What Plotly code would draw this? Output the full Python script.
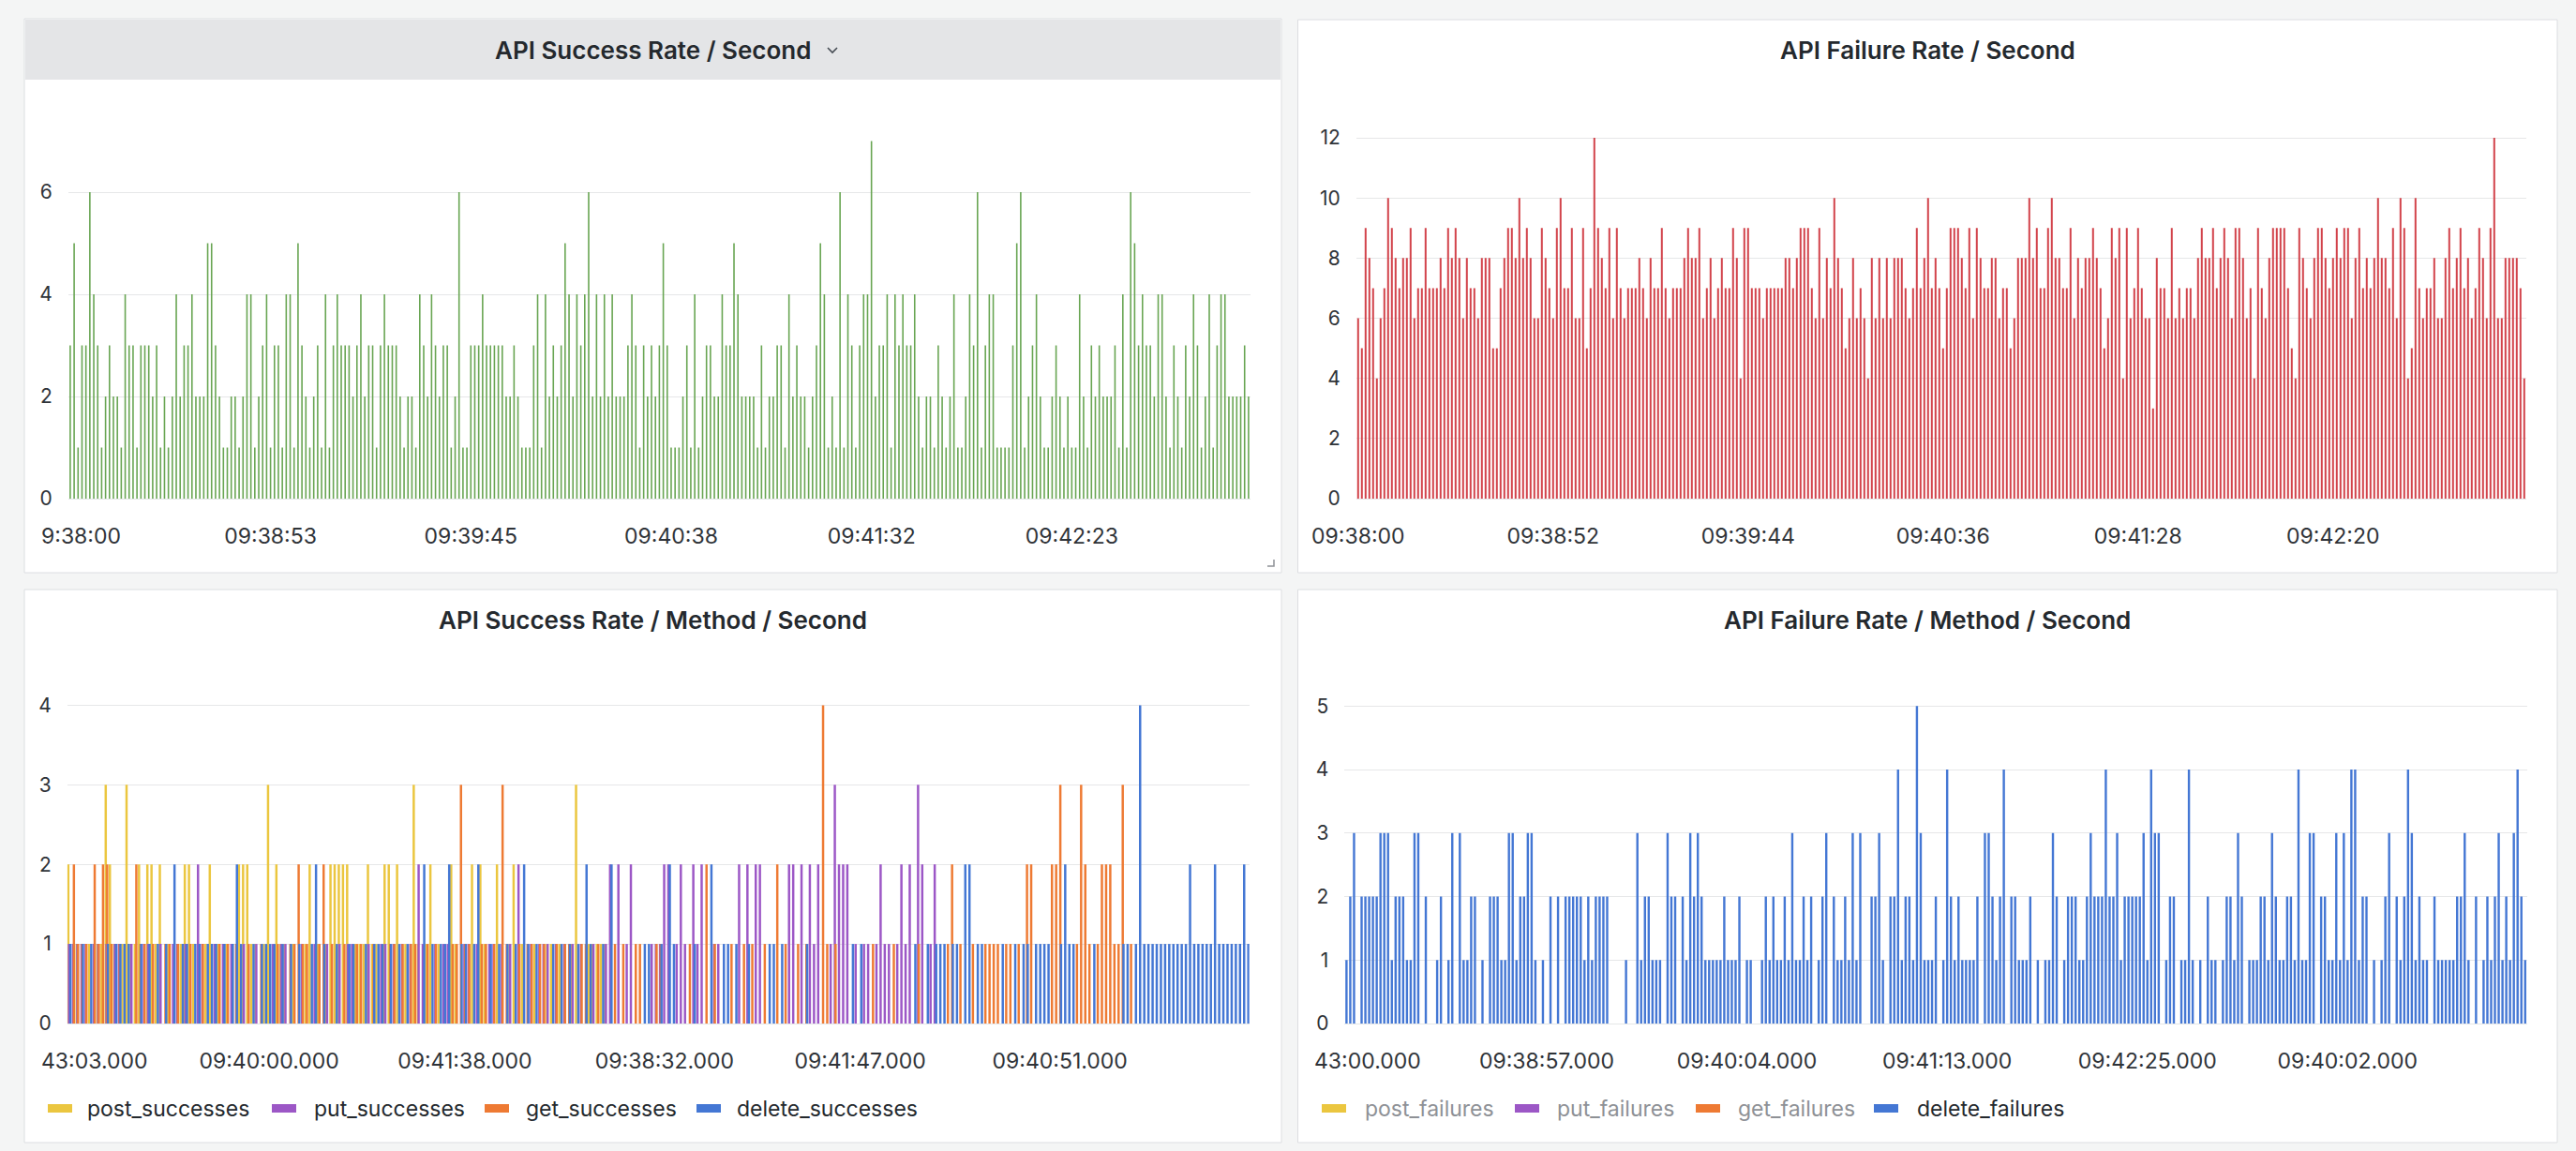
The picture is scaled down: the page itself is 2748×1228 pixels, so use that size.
import plotly.graph_objects as go

W, H = 2748, 1228

# ---------------- data ----------------
success_per_second = [
    3,5,1,3,3,6,4,3,1,2, 3,2,2,1,4,3,3,1,3,3, 3,2,3,1,2,1,2,4,2,3,
    3,4,2,2,2,5,5,3,2,1, 1,2,2,1,2,4,4,1,2,3, 4,1,3,3,1,4,4,1,5,3,
    2,1,2,3,1,4,1,3,4,3, 3,3,2,3,4,2,3,3,1,3, 4,3,3,3,2,1,2,2,1,4,
    3,2,4,3,2,3,3,1,2,6, 1,1,3,3,3,4,3,3,3,3, 3,2,2,3,2,1,1,1,3,4,
    1,4,2,3,2,3,5,4,2,4, 3,4,6,2,4,2,4,2,4,2, 2,2,3,4,3,1,3,2,3,2,
    3,5,
    3,1,1,1,2,3,1,4,1,2, 3,3,2,2,4,3,3,5,4,2, 2,2,2,1,3,1,2,2,3,3,
    1,4,2,3,2,2,1,2,3,5, 4,1,2,1,6,1,4,3,1,3, 4,4,7,2,3,3,4,1,4,3,
    4,3,3,4,2,1,2,2,1,3, 2,1,2,4,1,1,2,4,3,6, 1,3,4,4,1,1,1,1,3,5,
    6,1,2,3,4,2,1,1,2,3, 2,1,2,1,1,4,2,1,3,2, 3,2,2,2,3,1,4,1,6,5,
    3,4,3,3,2,4,4,2,1,3, 2,1,3,2,4,3,1,2,4,1, 3,4,4,2,2,2,2,3,2,
]
success_ticks = [0, 51, 102, 153, 204, 255]
success_labels = ["09:38:00", "09:38:53", "09:39:45", "09:40:38", "09:41:32", "09:42:23"]

failure_per_second = [
    6,5,9,8,7,4,6,7,10,9, 8,7,8,8,9,6,7,7,9,7, 7,7,8,7,9,8,9,8,6,8,
    7,7,6,8,8,8,5,5,7,8, 9,9,8,10,8,9,8,6,6,9, 8,7,6,9,10,7,7,9,6,6,
    9,5,7,12,9,8,7,9,6,9, 7,6,7,7,7,8,7,6,8,7, 7,9,7,6,7,7,7,8,9,8,
    8,9,6,7,8,6,7,8,7,7, 9,8,4,9,9,7,7,7,6,7, 7,7,7,7,8,8,7,8,9,9,
    9,7,6,9,6,8,7,10,8,7, 5,6,8,6,7,6,4,8,6,8, 6,8,6,8,8,8,7,6,7,9,
    7,8,10,7,8,7,
    5,7,9,9,9,8,7,9,6,9, 8,7,7,8,8,6,7,7,5,6, 8,8,8,10,8,9,7,7,9,10,
    8,8,7,7,9,6,8,7,8,8, 9,8,7,5,6,9,8,9,4,9, 6,7,9,7,6,6,3,8,7,7,
    6,9,6,7,6,7,7,6,8,9, 8,8,9,7,8,9,8,6,9,9, 8,6,7,4,9,7,6,8,9,9,
    9,9,7,5,4,9,8,7,6,8, 9,9,8,7,8,9,8,9,9,6, 8,9,7,8,7,8,10,8,8,7,
    9,6,10,9,4,5,10,7,6,7, 7,8,6,6,8,9,7,8,9,7, 8,6,7,9,8,6,9,12,6,6,
    8,8,8,8,7,4,
]
failure_ticks = [0, 52, 104, 156, 208, 260]
failure_labels = ["09:38:00", "09:38:52", "09:39:44", "09:40:36", "09:41:28", "09:42:20"]

post_successes = [
    2,0,1,0,0,1,0,1,1,3, 2,1,0,1,3,1,1,2,0,2, 2,1,2,0,1,0,0,1,2,2,
    1,0,0,1,2,0,1,0,1,0, 0,2,2,2,1,1,0,1,3,0, 2,1,1,0,1,0,0,1,2,0,
    1,0,1,2,2,2,2,2,0,1, 1,1,2,1,1,0,2,2,0,2, 0,1,0,3,1,0,1,2,0,1,
    0,0,2,1,0,0,0,2,0,2, 1,0,0,2,0,0,1,2,0,1, 0,0,1,0,0,1,1,0,1,0,
    0,1,3,0,0,1,1,1,1,1, 0,0,0,0,0,0,0,0,0,0, 0,0,0,0,0,0,0,0,0,0,
    0,0,0,0,0,0,0,0,0,0, 0,0,0,0,0,0,0,0,0,0, 0,0,0,0,0,0,0,0,0,0,
    0,0,0,0,0,0,0,0,0,0, 0,0,0,0,0,0,0,0,0,0, 0,0,0,0,0,0,0,0,0,0,
    0,0,0,0,0,0,0,0,0,0, 0,0,0,0,0,0,0,0,0,0, 0,0,0,0,0,0,0,0,0,0,
    0,0,0,0,0,0,0,0,0,0, 0,0,0,0,0,0,0,0,0,0, 0,0,0,0,0,0,0,0,0,0,
    0,0,0,0,
]
put_successes = [
    1,1,1,1,1,0,1,1,0,1, 0,1,1,0,0,1,0,0,1,1, 0,0,1,0,0,1,1,0,1,0,
    0,2,1,0,0,1,0,1,0,1, 0,0,1,0,0,1,0,0,0,1, 0,1,1,0,0,0,1,0,0,1,
    0,0,1,0,0,1,0,1,1,0, 0,0,1,0,0,1,1,0,1,0, 1,0,1,0,2,1,0,0,1,0,
    1,1,0,0,0,1,1,0,1,0, 0,1,1,0,1,0,1,0,2,0, 0,1,0,1,1,1,0,1,0,1,
    0,1,0,1,0,0,1,0,0,1, 2,0,2,0,1,2,0,0,0,0, 1,1,1,2,2,0,1,2,1,0,
    2,1,2,0,0,1,1,0,0,0, 0,2,0,2,0,2,2,0,0,0, 0,0,0,2,2,0,2,0,2,1,
    2,0,0,1,3,2,2,2,0,1, 0,1,1,0,1,2,1,1,0,1, 2,1,2,0,3,2,0,1,2,0,
    0,0,0,0,0,0,0,0,0,0, 0,0,0,0,0,0,0,0,0,0, 0,0,0,0,0,0,0,0,0,0,
    0,0,0,0,0,0,0,0,0,0, 0,0,0,0,0,0,0,0,0,0, 0,0,0,0,0,0,0,0,0,0,
    0,0,0,0,
]
get_successes = [
    0,2,1,1,1,0,2,1,2,2, 1,0,1,0,0,0,2,1,1,0, 1,0,0,1,1,0,1,0,0,1,
    0,0,1,0,0,0,1,0,1,0, 1,0,0,1,0,0,1,0,0,0, 1,0,0,1,1,2,1,1,0,0,
    1,2,0,1,0,0,1,0,0,1, 1,0,0,1,0,0,0,1,1,0, 1,0,1,1,0,0,1,0,1,0,
    0,0,1,1,3,1,1,0,0,1, 1,0,1,0,3,1,0,0,1,0, 1,1,0,1,1,0,0,1,0,1,
    1,0,0,1,1,0,0,1,0,0, 0,1,0,1,0,0,1,1,0,0, 0,1,1,0,0,0,0,0,0,1,
    0,0,0,2,0,1,0,0,0,1, 0,0,1,0,1,0,0,1,0,0, 2,0,1,0,0,1,0,1,0,0,
    0,4,1,0,1,0,0,0,0,0, 0,0,0,1,0,0,0,0,1,0, 0,0,0,0,1,0,0,0,0,0,
    0,1,2,0,1,0,0,1,0,0, 1,1,1,1,0,1,1,0,1,0, 2,2,0,0,0,0,2,2,3,0,
    0,0,1,3,2,1,0,1,2,2, 2,1,1,3,0,1,0,0,0,0, 0,0,0,0,0,0,0,0,0,0,
    0,0,0,0,0,0,0,0,0,0, 0,0,0,0,
]
delete_successes = [
    1,0,0,1,0,1,0,0,0,1, 0,1,1,1,1,0,0,1,0,1, 0,1,0,1,0,2,0,1,1,0,
    1,1,0,1,1,1,0,1,0,1, 2,1,0,0,1,0,1,1,1,1, 0,1,0,1,0,1,0,0,1,2,
    0,1,0,0,1,0,0,1,1,0, 0,1,0,1,1,1,0,1,0,1, 0,1,0,0,0,2,0,1,0,1,
    1,2,0,0,1,1,0,1,2,0, 0,1,0,1,0,1,0,1,0,2, 1,0,1,0,0,0,1,0,1,0,
    1,0,1,0,2,1,0,0,1,0, 2,0,0,0,0,0,0,0,1,1, 0,0,1,0,2,1,0,0,0,0,
    1,0,0,0,2,0,0,1,1,0, 1,0,0,1,0,0,0,0,1,1, 0,1,0,0,0,0,0,1,0,0,
    0,0,0,0,0,0,0,0,1,0, 1,0,0,0,0,0,0,0,0,0, 0,0,0,1,0,0,1,0,1,1,
    1,0,1,1,0,2,2,0,1,1, 0,0,0,0,1,0,0,1,0,1, 1,0,1,1,1,1,0,0,1,2,
    1,1,0,0,0,0,1,0,0,0, 0,0,0,1,1,0,1,4,1,1, 1,1,1,1,1,1,1,1,1,2,
    1,1,1,1,1,2,1,1,1,1, 1,1,2,1,
]
method_success_ticks = [0, 48, 95, 143, 190, 238]
method_success_labels = ["09:43:03.000", "09:40:00.000", "09:41:38.000",
                         "09:38:32.000", "09:41:47.000", "09:40:51.000"]
success_series = ["post_successes", "put_successes", "get_successes", "delete_successes"]

delete_failures = [
    1,2,3,0,2,2,2,2,2,3, 3,3,1,2,2,2,1,1,3,3, 0,2,0,0,1,2,0,1,3,0,
    3,1,1,2,2,0,1,0,2,2, 2,1,1,3,3,1,2,2,3,3, 1,0,1,0,2,0,2,0,2,2,
    2,2,2,1,2,1,2,2,2,2, 0,0,0,0,1,0,0,3,1,2, 2,1,1,1,0,3,2,2,0,2,
    1,3,2,3,2,1,1,1,1,1, 2,1,1,1,2,0,1,1,0,0, 1,2,1,2,1,1,2,1,3,1,
    1,2,1,2,0,1,2,3,0,2, 1,1,2,1,3,1,3,0,0,2, 2,3,1,0,2,2,4,1,2,2,
    1,5,3,1,1,1,
    2,0,1,4,2,1,2,1,1,1, 1,2,0,3,3,2,1,2,4,0, 2,2,1,1,1,2,0,1,0,1,
    1,3,2,0,1,2,2,2,1,1, 2,3,2,2,2,4,2,2,3,1, 2,2,2,2,2,3,1,4,3,3,
    0,1,2,2,0,1,1,4,1,0, 1,0,2,1,1,0,1,2,2,1, 3,2,0,1,1,1,2,2,1,3,
    2,1,1,2,2,1,4,1,1,3, 3,0,2,2,1,1,3,1,3,1, 4,4,1,2,2,0,1,0,1,2,
    3,0,2,1,2,4,3,1,2,1, 1,0,2,1,1,1,1,1,2,2, 3,1,0,2,0,1,2,1,2,3,
    1,2,1,3,4,2,1,
]
method_failure_ticks = [0, 53, 106, 159, 212, 265]
method_failure_labels = ["09:43:00.000", "09:38:57.000", "09:40:04.000",
                         "09:41:13.000", "09:42:25.000", "09:40:02.000"]
failure_series = ["post_failures", "put_failures", "get_failures", "delete_failures"]

panel_titles = ["API Success Rate / Second", "API Failure Rate / Second",
                "API Success Rate / Method / Second", "API Failure Rate / Method / Second"]

# ---------------- style ----------------
FONT = "Inter"
TEXT = "#24292e"
TICK = "#2f3338"
MUTED = "#8e9196"
GRID = "#e6e7e8"
PAGE = "#f4f5f5"
BORDER = "#dcdee1"
GREEN = "#68a552"
RED = "#d2434b"
SERIES_COLORS = ["#ebc63f", "#9c57c6", "#ee7a33", "#4477d4"]
XT, YT, LG, TT = 23, 21, 23, 26


def fx(px):
    return px / W


def fy(py):
    return 1 - py / H


def xdomain(first_center, spacing, n):
    left = first_center - spacing / 2
    return [fx(left), fx(left + spacing * n)]


def ydomain(zero_px, top_px):
    return [fy(zero_px), fy(top_px)]


fig = go.Figure()

fig.add_trace(go.Bar(x=list(range(len(success_per_second))), y=success_per_second,
                     width=0.38, marker=dict(color=GREEN, line=dict(width=0)),
                     xaxis="x", yaxis="y", showlegend=False))
fig.add_trace(go.Bar(x=list(range(len(failure_per_second))), y=failure_per_second,
                     width=0.5, marker=dict(color=RED, line=dict(width=0)),
                     xaxis="x2", yaxis="y2", showlegend=False))
bl_series = [post_successes, put_successes, get_successes, delete_successes]
slot = 0.7 / 4
bw = 0.56
for i, (name, vals) in enumerate(zip(success_series, bl_series)):
    center = -0.35 + slot * (i + 0.5)
    fig.add_trace(go.Bar(x=list(range(len(vals))), y=vals, name=name,
                         width=bw, offset=center - bw / 2,
                         marker=dict(color=SERIES_COLORS[i], line=dict(width=0)),
                         xaxis="x3", yaxis="y3", showlegend=False))
fig.add_trace(go.Bar(x=list(range(len(delete_failures))), y=delete_failures,
                     name="delete_failures", width=0.6,
                     marker=dict(color=SERIES_COLORS[3], line=dict(width=0)),
                     xaxis="x4", yaxis="y4", showlegend=False))


def yaxis(domain, top_val, dtick, anchor):
    return dict(domain=domain, range=[0, top_val], tick0=0, dtick=dtick, anchor=anchor,
                showgrid=True, gridcolor=GRID, gridwidth=1,
                zeroline=True, zerolinecolor=GRID, zerolinewidth=1,
                showline=False, ticks="", ticklabelstandoff=16, automargin=False,
                tickfont=dict(family=FONT, size=YT, color=TICK), fixedrange=True)


def xaxis(domain, n, ticks, labels, anchor, skip_first):
    tv = ticks[1:] if skip_first else ticks
    tt = labels[1:] if skip_first else labels
    return dict(domain=domain, range=[-0.5, n - 0.5], anchor=anchor,
                showgrid=False, zeroline=False, showline=False, ticks="",
                tickmode="array", tickvals=tv, ticktext=tt, tickangle=0,
                ticklabelstandoff=24, automargin=False,
                tickfont=dict(family=FONT, size=XT, color=TICK), fixedrange=True)


layout = dict(
    width=W, height=H, autosize=False,
    margin=dict(l=0, r=0, t=0, b=0, pad=0, autoexpand=False),
    paper_bgcolor=PAGE, plot_bgcolor="rgba(0,0,0,0)",
    barmode="overlay", showlegend=False, hovermode=False,
    font=dict(family=FONT, color=TEXT),
    xaxis=xaxis(xdomain(74.9, 4.19, len(success_per_second)), len(success_per_second),
                success_ticks, success_labels, "y", True),
    yaxis=yaxis(ydomain(532, 100), 432 / 54.5, 2, "x"),
    xaxis2=xaxis(xdomain(1448.8, 4.0, len(failure_per_second)), len(failure_per_second),
                 failure_ticks, failure_labels, "y2", False),
    yaxis2=yaxis(ydomain(532, 100), 432 / 32.08, 2, "x2"),
    xaxis3=xaxis(xdomain(74.0, 4.44, len(delete_successes)), len(delete_successes),
                 method_success_ticks, method_success_labels, "y3", True),
    yaxis3=yaxis(ydomain(1092, 700), 392 / 84.9, 1, "x3"),
    xaxis4=xaxis(xdomain(1436.4, 4.03, len(delete_failures)), len(delete_failures),
                 method_failure_ticks, method_failure_labels, "y4", True),
    yaxis4=yaxis(ydomain(1092, 700), 392 / 67.74, 1, "x4"),
)

shapes = []
annotations = []

panels = [(26, 20, 1367, 611), (1384.5, 21, 2728, 611), (26, 629, 1367, 1219), (1384.5, 629, 2728, 1219)]
for (x0, y0, x1, y1) in panels:
    shapes.append(dict(type="rect", xref="paper", yref="paper", layer="below",
                       x0=fx(x0), x1=fx(x1), y0=fy(y1), y1=fy(y0),
                       fillcolor="#ffffff", line=dict(color=BORDER, width=1)))
shapes.append(dict(type="rect", xref="paper", yref="paper", layer="below",
                   x0=fx(27), x1=fx(1366), y0=fy(85), y1=fy(21),
                   fillcolor="#e4e5e7", line=dict(width=0)))
shapes.append(dict(type="path", xref="paper", yref="paper", layer="above",
                   path=f"M {fx(883)},{fy(51)} L {fx(888)},{fy(56)} L {fx(893)},{fy(51)}",
                   line=dict(color="#464c54", width=1.6)))
shapes.append(dict(type="path", xref="paper", yref="paper", layer="above",
                   path=f"M {fx(1352)},{fy(604)} L {fx(1359)},{fy(604)} L {fx(1359)},{fy(597)}",
                   line=dict(color="#8e9196", width=1.5)))

title_pos = [(696, 53), (2056, 53), (696, 661), (2056, 661)]
for t, (cx, cy) in zip(panel_titles, title_pos):
    annotations.append(dict(text=t, x=fx(cx), y=fy(cy), xref="paper", yref="paper",
                            xanchor="center", yanchor="middle", showarrow=False,
                            font=dict(family=FONT, size=TT, color=TEXT, weight=600)))

# first x labels, clipped by the panel edge in the original
clipped = [("9:38:00", 42, 572), ("43:03.000", 42, 1132), ("43:00.000", 1400, 1132)]
for txt, lx, ly in clipped:
    annotations.append(dict(text=txt, x=fx(lx), y=fy(ly), xref="paper", yref="paper",
                            xanchor="left", yanchor="middle", showarrow=False,
                            font=dict(family=FONT, size=XT, color=TICK)))

bl_legend = [(51, 91), (290, 333), (517, 559), (743, 784)]
for i, (name, (sx, tx)) in enumerate(zip(success_series, bl_legend)):
    shapes.append(dict(type="rect", xref="paper", yref="paper", layer="above",
                       x0=fx(sx), x1=fx(sx + 26), y0=fy(1187), y1=fy(1178),
                       fillcolor=SERIES_COLORS[i], line=dict(width=0)))
    annotations.append(dict(text=name, x=fx(tx), y=fy(1182.5), xref="paper", yref="paper",
                            xanchor="left", yanchor="middle", showarrow=False,
                            font=dict(family=FONT, size=LG, color=TEXT)))
br_legend = [(1410, 1454), (1616, 1659), (1809, 1852), (1999, 2043)]
for i, (name, (sx, tx)) in enumerate(zip(failure_series, br_legend)):
    shapes.append(dict(type="rect", xref="paper", yref="paper", layer="above",
                       x0=fx(sx), x1=fx(sx + 26), y0=fy(1187), y1=fy(1178),
                       fillcolor=SERIES_COLORS[i], line=dict(width=0)))
    annotations.append(dict(text=name, x=fx(tx), y=fy(1182.5), xref="paper", yref="paper",
                            xanchor="left", yanchor="middle", showarrow=False,
                            font=dict(family=FONT, size=LG, color=TEXT if i == 3 else MUTED)))

layout["shapes"] = shapes
layout["annotations"] = annotations
fig.update_layout(**layout)

fig.write_html("out.html", config={"displayModeBar": False, "staticPlot": True})
